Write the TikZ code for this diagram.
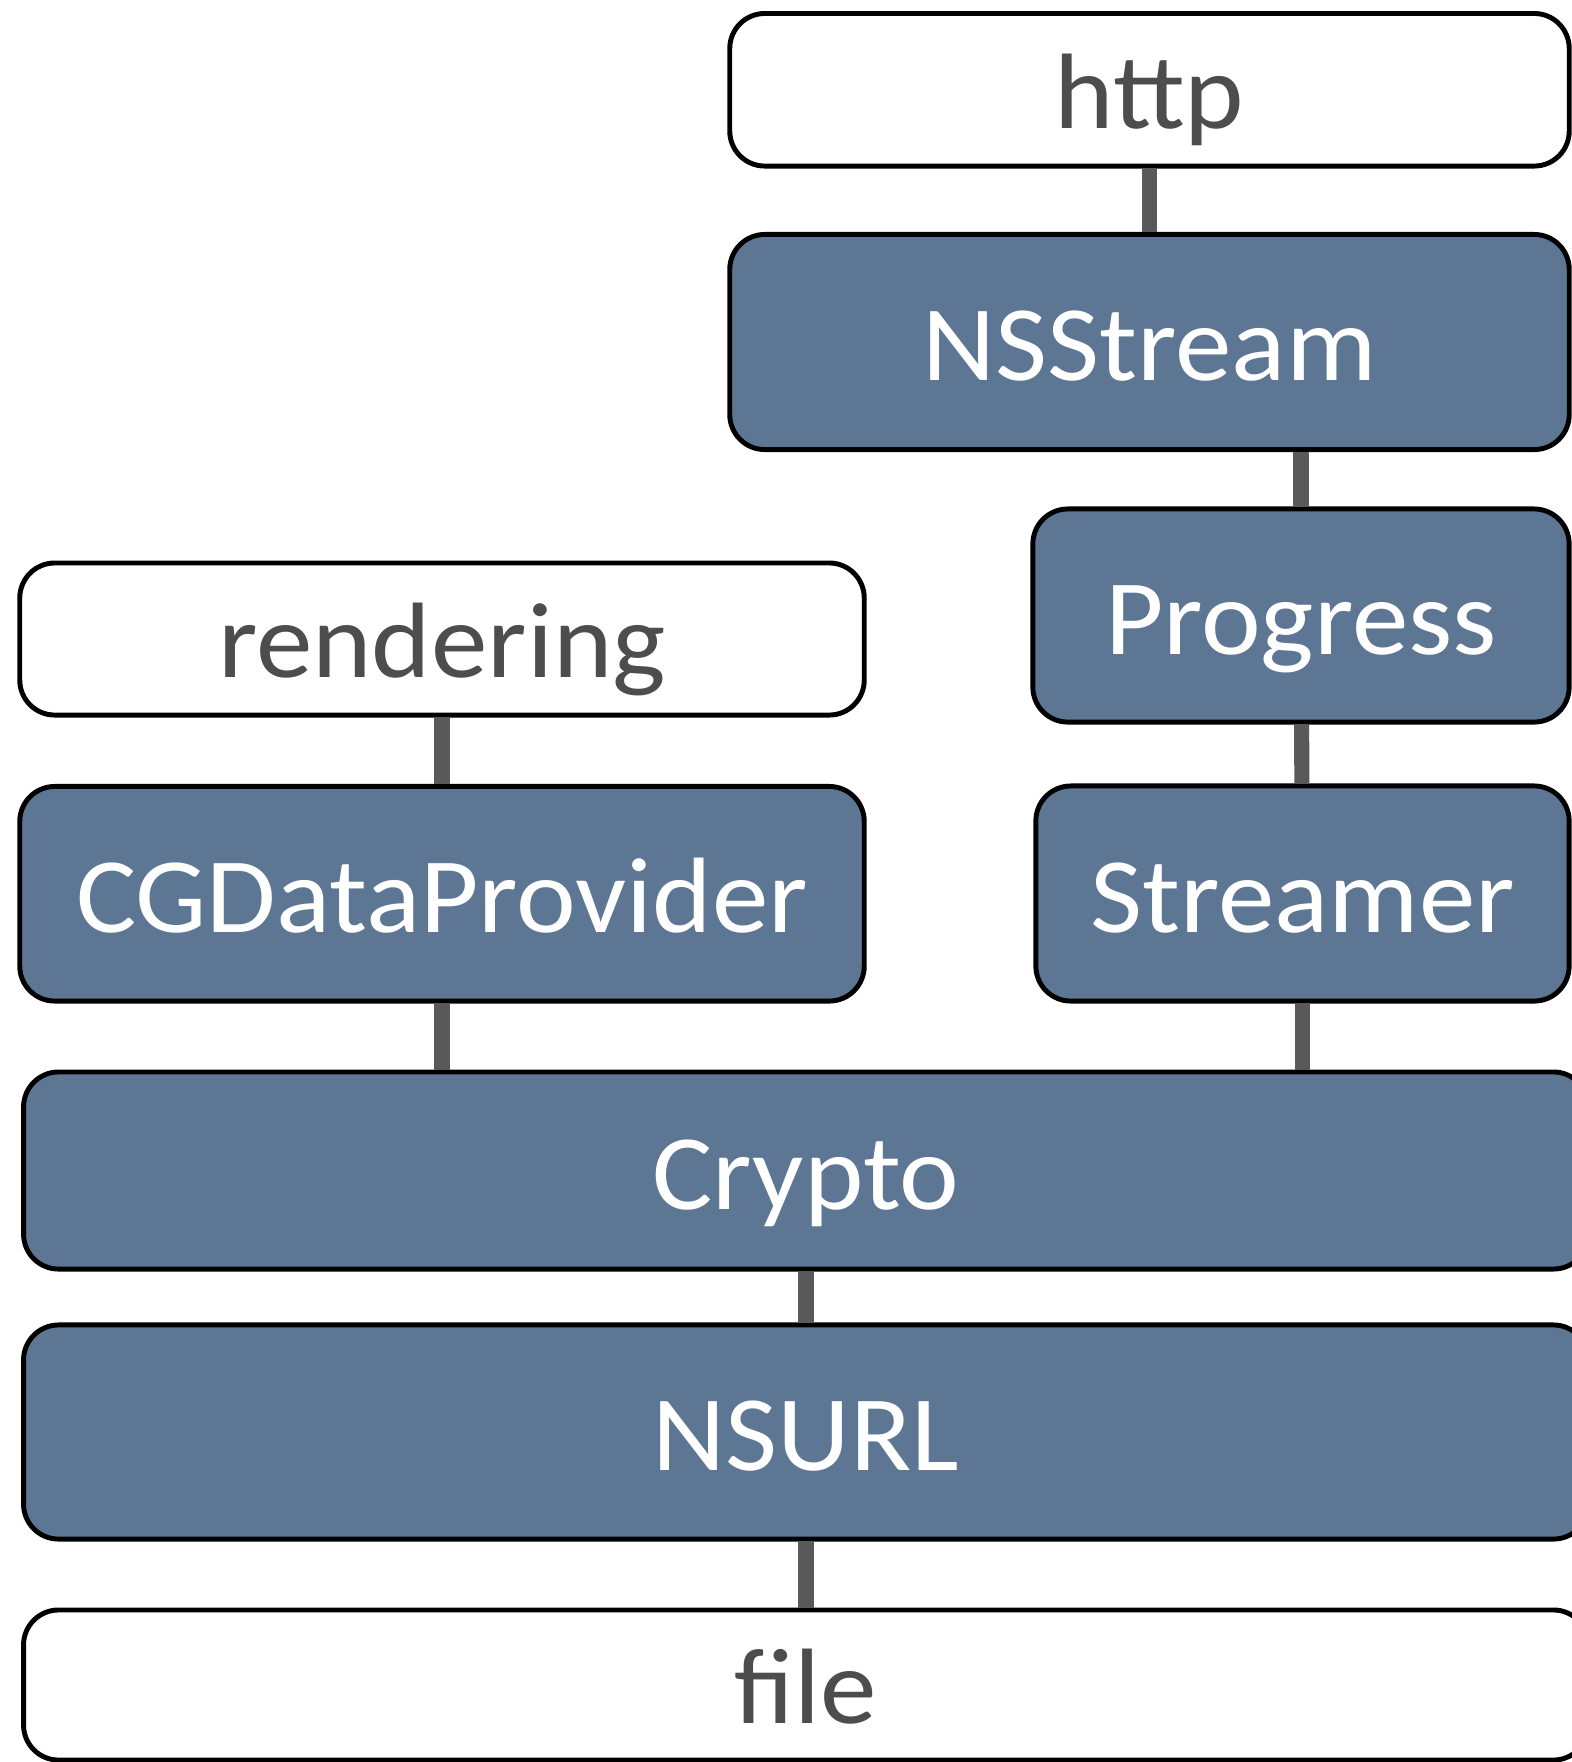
\documentclass[tikz,border=0pt]{standalone}
\usepackage{fontspec}
\setmainfont{Carlito}[FakeStretch=1.055]
\usepackage{xcolor}
\usepackage{tikz}
\usetikzlibrary{positioning}

\definecolor{layerblue}{RGB}{93,118,148}
\definecolor{labelgray}{RGB}{77,77,77}
\definecolor{linkgray}{RGB}{89,89,89}

\begin{document}
\begin{tikzpicture}[x=0.01cm,y=-0.01cm,
  layer/.style={draw=black,line width=1.4pt,rounded corners=0.35cm,inner sep=0pt,
    text height=22pt,text depth=0pt,font=\fontsize{30.5}{36}\selectfont},
  filled/.style={layer,fill=layerblue,text=white},
  open/.style={layer,fill=white,text=labelgray},
  link/.style={draw=linkgray,line width=4.3pt}]
\useasboundingbox (0,0) rectangle (1572,1762);
\clip (0,0) rectangle (1572,1762);
  % right column
  \node[open,minimum width=8.39cm,minimum height=1.525cm] (http) at (1149.5,89.75) {http};
  \node[filled,minimum width=8.39cm,minimum height=2.15cm] (nsstream) at (1149.5,342) {NSStream};
  \node[filled,minimum width=5.36cm,minimum height=2.13cm] (progress) at (1301,615.5) {Progress};
  \node[filled,minimum width=5.33cm,minimum height=2.15cm] (streamer) at (1302.5,893.5) {Streamer};
  % left column
  \node[open,minimum width=8.44cm,minimum height=1.52cm] (rendering) at (442,639) {rendering};
  \node[filled,minimum width=8.44cm,minimum height=2.145cm] (cgdata) at (442,893.75) {CGDataProvider};
  % bottom
  \node[filled,minimum width=15.64cm,minimum height=1.97cm] (crypto) at (806,1170.5) {Crypto};
  \node[filled,minimum width=15.64cm,minimum height=2.14cm] (nsurl) at (806,1432) {NSURL};
  \node[open,minimum width=15.64cm,minimum height=1.5cm] (file) at (806,1685) {file};

  \draw[link] (http) -- (nsstream);
  \draw[link] (nsstream.south -| progress) -- (progress);
  \draw[link] (progress) -- (streamer);
  \draw[link] (streamer) -- (crypto.north -| streamer);
  \draw[link] (rendering) -- (cgdata);
  \draw[link] (cgdata) -- (crypto.north -| cgdata);
  \draw[link] (crypto) -- (nsurl);
  \draw[link] (nsurl) -- (file);
\end{tikzpicture}
\end{document}
